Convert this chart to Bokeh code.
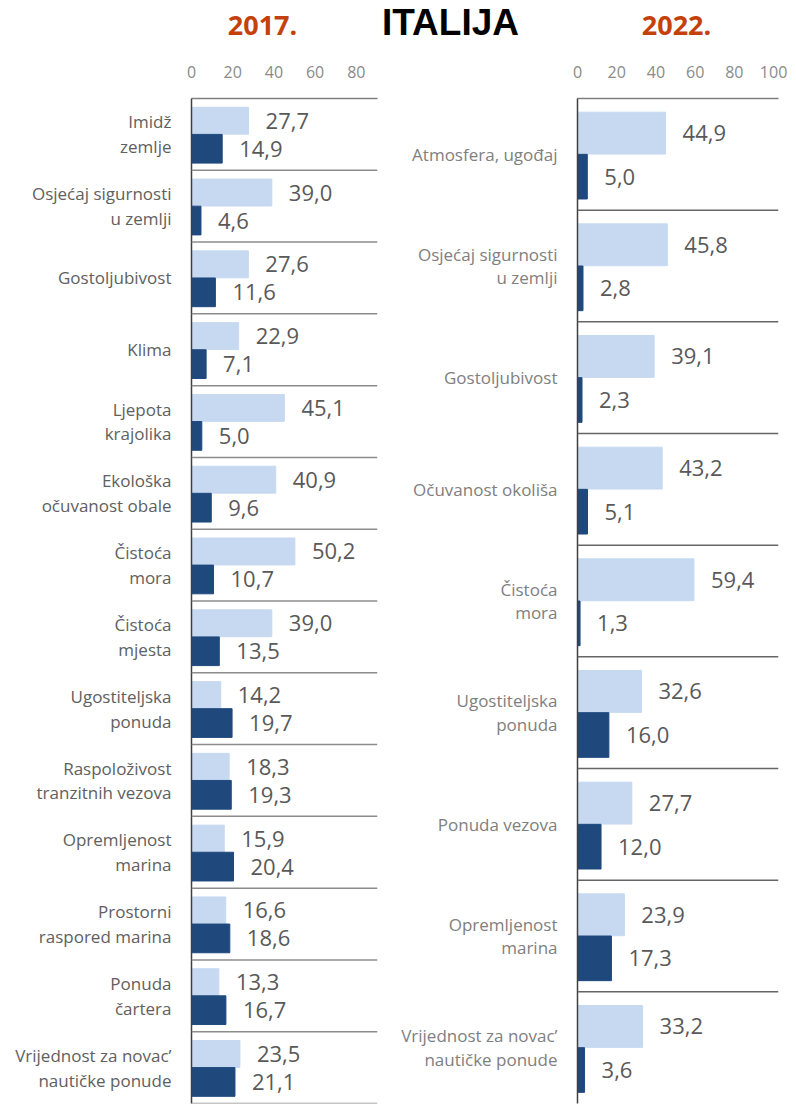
from bokeh.plotting import figure
from bokeh.models import ColumnDataSource, LabelSet, Label, Span, FactorRange, Range1d, FixedTicker
from bokeh.transform import dodge
from bokeh.layouts import row, column
from bokeh.core.properties import value
from bokeh.embed import file_html
from bokeh.resources import INLINE

# ---------------- data ----------------
title_main = "ITALIJA"
year_left = "2017."
year_right = "2022."

cats_2017 = [
    "Imidž\nzemlje",
    "Osjećaj sigurnosti\nu zemlji",
    "Gostoljubivost",
    "Klima",
    "Ljepota\nkrajolika",
    "Ekološka\nočuvanost obale",
    "Čistoća\nmora",
    "Čistoća\nmjesta",
    "Ugostiteljska\nponuda",
    "Raspoloživost\ntranzitnih vezova",
    "Opremljenost\nmarina",
    "Prostorni\nraspored marina",
    "Ponuda\nčartera",
    "Vrijednost za novac’\nnautičke ponude",
]
light_2017 = [27.7, 39.0, 27.6, 22.9, 45.1, 40.9, 50.2, 39.0, 14.2, 18.3, 15.9, 16.6, 13.3, 23.5]
dark_2017 = [14.9, 4.6, 11.6, 7.1, 5.0, 9.6, 10.7, 13.5, 19.7, 19.3, 20.4, 18.6, 16.7, 21.1]
ticks_2017 = [0, 20, 40, 60, 80]

cats_2022 = [
    "Atmosfera, ugođaj",
    "Osjećaj sigurnosti\nu zemlji",
    "Gostoljubivost",
    "Očuvanost okoliša",
    "Čistoća\nmora",
    "Ugostiteljska\nponuda",
    "Ponuda vezova",
    "Opremljenost\nmarina",
    "Vrijednost za novac’\nnautičke ponude",
]
light_2022 = [44.9, 45.8, 39.1, 43.2, 59.4, 32.6, 27.7, 23.9, 33.2]
dark_2022 = [5.0, 2.8, 2.3, 5.1, 1.3, 16.0, 12.0, 17.3, 3.6]
ticks_2022 = [0, 20, 40, 60, 80, 100]

# ---------------- style ----------------
LIGHT = "#c6d9f1"
DARK = "#1f497d"
ORANGE = "#c4410c"
FONT = "Open Sans"
TOP_H = 50
H = 1054


def fmt(v):
    return f"{v:.1f}".replace(".", ",")


def panel(cats, light, dark, ticks, xmax, width, bl, br, lab_size, lab_color,
          line_h, sep_color, bottom_line):
    src = ColumnDataSource(dict(
        cat=cats, light=light, dark=dark,
        lt=[fmt(v) for v in light], dt=[fmt(v) for v in dark],
    ))
    p = figure(width=width, height=H,
               y_range=FactorRange(*reversed(cats)),
               x_range=Range1d(0, xmax),
               x_axis_location="above",
               output_backend="svg", toolbar_location=None,
               min_border_left=bl, min_border_right=br,
               min_border_top=48, min_border_bottom=1)
    p.outline_line_color = None
    p.xgrid.grid_line_color = None
    p.ygrid.grid_line_color = None
    p.background_fill_color = "white"
    p.border_fill_color = "white"

    ax = p.xaxis[0]
    ax.ticker = FixedTicker(ticks=ticks)
    ax.major_tick_out = 0
    ax.major_tick_in = 0
    ax.minor_tick_out = 0
    ax.minor_tick_in = 0
    ax.axis_line_color = "#7f7f7f"
    ax.axis_line_width = 1.5
    ax.major_label_standoff = 21
    ax.major_label_text_font = FONT
    ax.major_label_text_font_size = "16px"
    ax.major_label_text_color = "#8a8a8a"

    ay = p.yaxis[0]
    ay.major_tick_out = 0
    ay.major_tick_in = 0
    ay.axis_line_color = "#404040"
    ay.axis_line_width = 1.5
    ay.major_label_standoff = 20
    ay.major_label_text_font = FONT
    ay.major_label_text_font_size = lab_size
    ay.major_label_text_color = lab_color
    ay.major_label_text_line_height = line_h

    p.hbar(y=dodge("cat", 0.19, range=p.y_range), left=0, right="light",
           height=0.375, color=LIGHT, source=src)
    p.hbar(y=dodge("cat", -0.2, range=p.y_range), left=0, right="dark",
           height=0.4, color=DARK, source=src)

    n = len(cats)
    start = 0 if bottom_line else 1
    for i in range(start, n):
        p.add_layout(Span(location=i, dimension="width",
                          line_color=sep_color, line_width=1.5))

    p.add_layout(LabelSet(x="light", y=dodge("cat", 0.19, range=p.y_range),
                          text="lt", source=src, x_offset=17,
                          text_baseline="middle", text_font=value(FONT),
                          text_font_size="22px", text_color="#595959"))
    p.add_layout(LabelSet(x="dark", y=dodge("cat", -0.2, range=p.y_range),
                          text="dt", source=src, x_offset=17,
                          text_baseline="middle", text_font=value(FONT),
                          text_font_size="22px", text_color="#595959"))
    return p


p1 = panel(cats_2017, light_2017, dark_2017, ticks_2017, 90.3, 378, 191, 1,
           "17px", "#606060", 1.08, "#8c8c8c", True)
p2 = panel(cats_2022, light_2022, dark_2022, ticks_2022, 102.5, 410, 199, 10,
           "17px", "#808080", 1.04, "#666666", False)

# title strip
t = figure(width=788, height=TOP_H, x_range=Range1d(0, 788), y_range=Range1d(0, TOP_H),
           output_backend="svg", toolbar_location=None,
           min_border_left=0, min_border_right=0, min_border_top=0, min_border_bottom=0)
t.axis.visible = False
t.grid.visible = False
t.outline_line_color = None
t.add_layout(Label(x=262, y=25, text=year_left, text_align="center", text_baseline="middle",
                   text_font=FONT, text_font_size="27px", text_font_style="bold",
                   text_color=ORANGE))
t.add_layout(Label(x=676, y=25, text=year_right, text_align="center", text_baseline="middle",
                   text_font=FONT, text_font_size="27px", text_font_style="bold",
                   text_color=ORANGE))
t.add_layout(Label(x=450, y=28, text=title_main, text_align="center", text_baseline="middle",
                   text_font="Liberation Sans", text_font_size="37px", text_font_style="bold",
                   text_color="black"))

layout = column(t, row(p1, p2))
open("out.html", "w").write(file_html(layout, INLINE))
